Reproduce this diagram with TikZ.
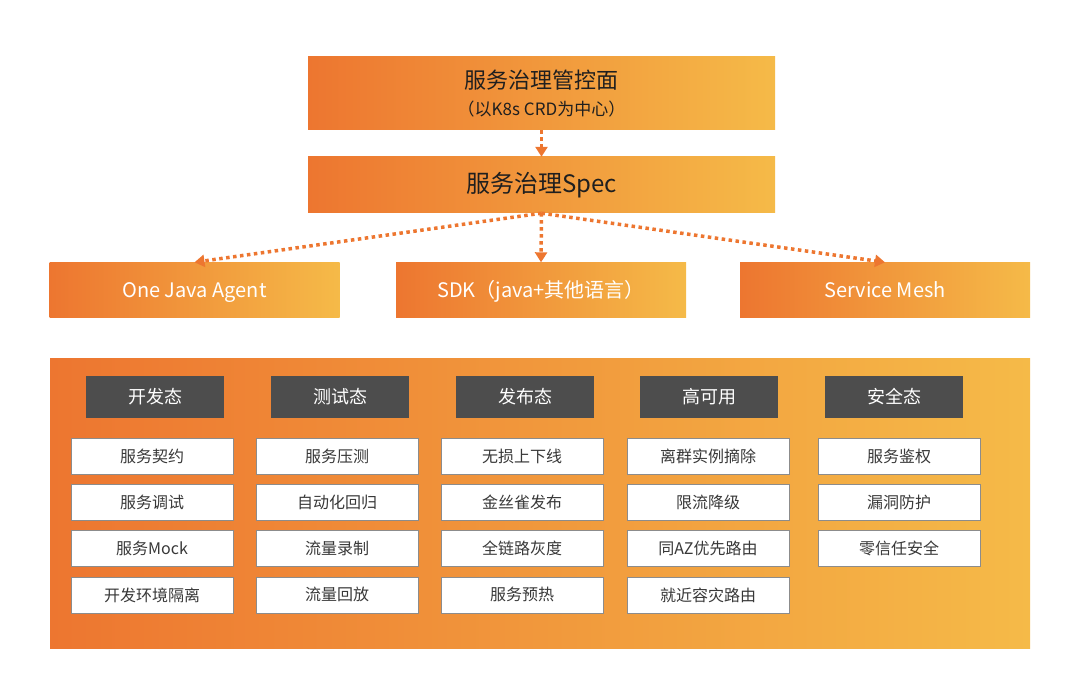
\documentclass[tikz,border=0pt]{standalone}
\usepackage{fontspec}
\setmainfont{Noto Sans CJK SC}
\usetikzlibrary{arrows.meta,positioning}
\definecolor{govorange}{RGB}{237,118,48}
\definecolor{govyellow}{RGB}{245,186,72}
\definecolor{headgray}{RGB}{77,77,77}
\definecolor{itemtext}{RGB}{56,56,56}

\begin{document}
\begin{tikzpicture}[x=1pt,y=-1pt,
      grad/.style={left color=govorange,right color=govyellow,inner sep=0pt},
      topbox/.style={grad,minimum width=467pt,align=center,text=black!88},
      midbox/.style={grad,minimum width=290pt,minimum height=55pt,text height=16pt,
        text depth=2pt,text=white,font=\fontsize{20}{23}\selectfont},
      head/.style={fill=headgray,minimum width=138pt,minimum height=42pt,
        inner sep=0pt,text=white,font=\fontsize{18}{21}\selectfont},
      item/.style={draw=black!45,line width=0.8pt,fill=white,minimum width=162pt,
        minimum height=36pt,inner sep=0pt,text=itemtext,font=\fontsize{16}{19}\selectfont},
      arr/.style={-{Triangle[length=10pt,width=12pt]},govorange,line width=3.5pt,
        dash pattern=on 3.5pt off 3.5pt}]
    \useasboundingbox (0,0) rectangle (1080,674);
    % control plane and spec
    \node[topbox,minimum height=73pt,font=\fontsize{17}{27}\selectfont](plane) at (541.5,93.5)
      {{\fontsize{22}{27}\selectfont 服务治理管控面}\\（以K8s CRD为中心）};
    \node[topbox,minimum height=56pt,font=\fontsize{24}{28}\selectfont](spec) at (541.5,185){服务治理Spec};
    % runtimes
    \node[midbox](agent) at (194.5,290){One Java Agent};
    \node[midbox](sdk) at (541,290){SDK（java+其他语言）};
    \node[midbox](mesh) at (885,290){Service Mesh};
    \draw[arr](plane)--(spec);
    \draw[arr](spec.south)--(agent.north);
    \draw[arr](spec.south)--(sdk.north);
    \draw[arr](spec.south)--(mesh.north);
    % capability panel
    \fill[left color=govorange,right color=govyellow](50,358) rectangle (1030,648);
    \node[head](dev) at (155,397){开发态};
    \node[head](test) at (340,397){测试态};
    \node[head](rel) at (525,397){发布态};
    \node[head](ha) at (709,397){高可用};
    \node[head](sec) at (894,397){安全态};
    % dev
    \node[item](d1) at (152,456){服务契约};
    \node[item,below=9.5pt of d1](d2){服务调试};
    \node[item,below=9.5pt of d2](d3){服务Mock};
    \node[item,below=9.5pt of d3](d4){开发环境隔离};
    % test
    \node[item](t1) at (337,456){服务压测};
    \node[item,below=9.5pt of t1](t2){自动化回归};
    \node[item,below=9.5pt of t2](t3){流量录制};
    \node[item,below=9.5pt of t3](t4){流量回放};
    % release
    \node[item](r1) at (522,456){无损上下线};
    \node[item,below=9.5pt of r1](r2){金丝雀发布};
    \node[item,below=9.5pt of r2](r3){全链路灰度};
    \node[item,below=9.5pt of r3](r4){服务预热};
    % high availability
    \node[item](h1) at (708,456){离群实例摘除};
    \node[item,below=9.5pt of h1](h2){限流降级};
    \node[item,below=9.5pt of h2](h3){同AZ优先路由};
    \node[item,below=9.5pt of h3](h4){就近容灾路由};
    % security
    \node[item](s1) at (899,456){服务鉴权};
    \node[item,below=9.5pt of s1](s2){漏洞防护};
    \node[item,below=9.5pt of s2](s3){零信任安全};
  \end{tikzpicture}
\end{document}
